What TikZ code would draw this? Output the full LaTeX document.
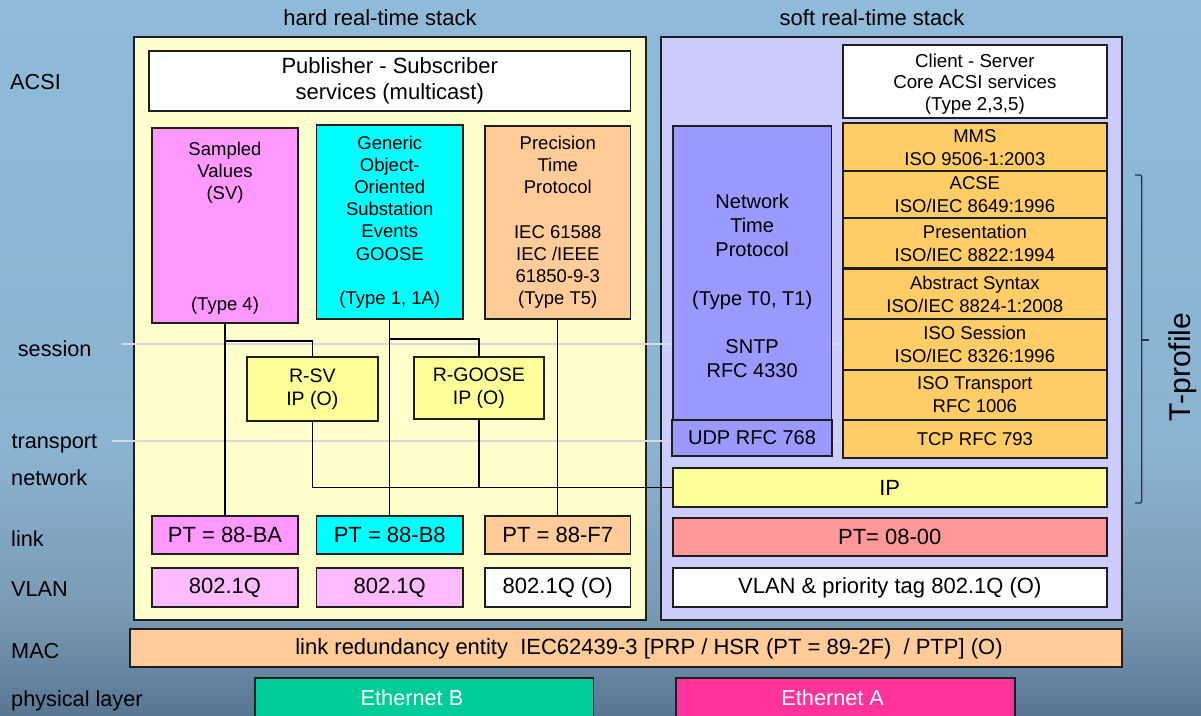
\documentclass[tikz,border=0pt]{standalone}
\usepackage{fontspec}
\setmainfont{Liberation Sans}
\usetikzlibrary{calc}

\definecolor{bgtop}{RGB}{143,186,218}
\definecolor{bgmid}{RGB}{139,179,210}
\definecolor{bglow}{RGB}{120,152,178}
\definecolor{bgbot}{RGB}{88,118,146}
\definecolor{hardfill}{RGB}{255,255,204}
\definecolor{softfill}{RGB}{204,204,255}
\definecolor{svpink}{RGB}{255,153,255}
\definecolor{vlanpink}{RGB}{255,187,255}
\definecolor{goosecyan}{RGB}{0,255,255}
\definecolor{ptppeach}{RGB}{255,204,153}
\definecolor{paleyellow}{RGB}{255,255,153}
\definecolor{ntpblue}{RGB}{153,153,255}
\definecolor{isoorange}{RGB}{255,204,102}
\definecolor{ethred}{RGB}{255,153,153}
\definecolor{ethbgreen}{RGB}{0,204,153}
\definecolor{ethamagenta}{RGB}{255,51,153}
\definecolor{layerline}{RGB}{214,218,224}
\definecolor{bracketblue}{RGB}{40,50,80}
\definecolor{edge}{RGB}{30,30,30}

\tikzset{
  stack/.style={draw=edge, line width=2.2pt, inner sep=0pt},
  box/.style={draw=edge, line width=1.8pt, inner sep=0pt, align=center,
    font=\fontsize{18.5}{22.2}\selectfont},
  rowbox/.style={draw=edge, line width=1.8pt, inner sep=0pt,
    font=\fontsize{22}{26}\selectfont},
  isobox/.style={box, fill=isoorange, minimum width=263.7pt,
    font=\fontsize{18.5}{23}\selectfont},
  plain/.style={inner sep=0pt, align=center},
  layer/.style={inner sep=0pt, anchor=base west, font=\fontsize{21.7}{26}\selectfont},
  heading/.style={inner sep=0pt, anchor=base, font=\fontsize{22}{26}\selectfont},
  wire/.style={draw=black, line width=1.4pt},
  guide/.style={draw=layerline, line width=1.5pt},
}

\begin{document}
\begin{tikzpicture}[x=1pt,y=1pt]
\useasboundingbox (0,0) rectangle (1201,-715);
\clip (0,0) rectangle (1201,-715);

% backdrop
\shade[top color=bgtop, bottom color=bgmid] (0,0.5) rectangle (1201,-450.5);
\shade[top color=bgmid, bottom color=bglow] (0,-450) rectangle (1201,-620.5);
\shade[top color=bglow, bottom color=bgbot] (0,-620) rectangle (1201,-716);

% stack headings
\node[heading] (hardtitle) at (380,-25) {hard real-time stack};
\node[heading] (softtitle) at (872,-25) {soft real-time stack};

% layer names
\node[layer] (lacsi) at (10,-89.3) {ACSI};
\node[layer] (lsession) at (17.7,-356) {session};
\node[layer] (ltransport) at (11.4,-448.3) {transport};
\node[layer] (lnetwork) at (11,-485) {network};
\node[layer] (llink) at (11,-546) {link};
\node[layer] (lvlan) at (11,-596) {VLAN};
\node[layer] (lmac) at (11,-658.3) {MAC};
\node[layer] (lphys) at (11,-706.7) {physical layer};

% the two stacks
\node[stack, fill=hardfill, minimum width=512pt, minimum height=583pt] (hard) at (390,-328.5) {};
\node[stack, fill=softfill, minimum width=461.4pt, minimum height=583pt] (soft) at (891.3,-328.5) {};

% session / transport guide lines
\coordinate (sessA) at (122,-344);
\coordinate (sessB) at (843,-344);
\coordinate (transA) at (111.5,-441);
\coordinate (transB) at (843,-441);
\draw[guide] (sessA) -- (sessB);
\draw[guide] (transA) -- (transB);

% hard real-time stack
\node[box, fill=white, minimum width=481.5pt, minimum height=60pt,
  font=\fontsize{22}{25.5}\selectfont] (pubsub) at (389.75,-81)
  {Publisher - Subscriber\\services (multicast)};
\node[box, fill=svpink, minimum width=146pt, minimum height=195pt] (sv) at (225,-225.2) {};
\node[plain, font=\fontsize{18.5}{22.2}\selectfont] (svtext) at (225,-228.5)
  {Sampled\\Values\\(SV)\\ \\ \\ \\ \\(Type 4)};
\node[box, fill=goosecyan, minimum width=146.5pt, minimum height=194pt] (goose) at (389.75,-222)
  {Generic\\Object-\\Oriented\\Substation\\Events\\GOOSE\\ \\(Type 1, 1A)};
\node[box, fill=ptppeach, minimum width=145.5pt, minimum height=193.6pt] (ptp) at (557.75,-222.5)
  {Precision\\Time\\Protocol\\ \\IEC 61588\\IEC /IEEE\\61850-9-3\\(Type T5)};
\node[box, fill=paleyellow, minimum width=131.4pt, minimum height=63.7pt,
  font=\fontsize{19.5}{23.3}\selectfont] (rsv) at (312.3,-389.15) {R-SV\\IP (O)};
\node[box, fill=paleyellow, minimum width=130.3pt, minimum height=61.7pt,
  font=\fontsize{19.5}{23.3}\selectfont] (rgoose) at (478.85,-388.15) {R-GOOSE\\IP (O)};
\node[rowbox, fill=svpink, minimum width=146pt, minimum height=38.3pt] (ptba) at (225,-535.15) {PT = 88-BA};
\node[rowbox, fill=goosecyan, minimum width=146.5pt, minimum height=38.3pt] (ptbe) at (389.75,-535.15) {PT = 88-B8};
\node[rowbox, fill=ptppeach, minimum width=145.5pt, minimum height=38.3pt] (ptfs) at (557.75,-535.15) {PT = 88-F7};
\node[rowbox, fill=vlanpink, minimum width=146pt, minimum height=38.4pt] (vsv) at (225,-587.5) {802.1Q};
\node[rowbox, fill=vlanpink, minimum width=146.5pt, minimum height=38.4pt] (vgoose) at (389.75,-587.5) {802.1Q};
\node[rowbox, fill=white, minimum width=145.5pt, minimum height=38.4pt] (vptp) at (557.75,-587.5) {802.1Q (O)};

% soft real-time stack
\node[box, fill=white, minimum width=263.7pt, minimum height=72.7pt] (client) at (974.85,-81.35) {};
\node[plain, font=\fontsize{18.7}{21.8}\selectfont] (clienttext) at (974.85,-84)
  {Client - Server\\Core ACSI services\\(Type 2,3,5)};
\node[box, fill=ntpblue, minimum width=158.7pt, minimum height=294.3pt] (ntp) at (752.15,-272.85) {};
\node[plain, font=\fontsize{20}{24.2}\selectfont] (ntptext) at (752.15,-286)
  {Network\\Time\\Protocol\\ \\(Type T0, T1)\\ \\SNTP\\RFC 4330};
\node[rowbox, fill=ntpblue, minimum width=160pt, minimum height=36pt,
  font=\fontsize{20}{24}\selectfont] (udp) at (752,-438) {UDP RFC 768};
\node[isobox, minimum height=47.7pt] (mms) at (974.85,-147.15) {MMS\\ISO 9506-1:2003};
\node[isobox, minimum height=46.7pt] (acse) at (974.85,-194.35) {ACSE\\ISO/IEC 8649:1996};
\node[isobox, minimum height=50.6pt] (pres) at (974.85,-243) {Presentation\\ISO/IEC 8822:1994};
\node[isobox, minimum height=49.8pt] (asn) at (974.85,-294.4) {Abstract Syntax\\ISO/IEC 8824-1:2008};
\node[isobox, minimum height=50.7pt] (isosess) at (974.85,-344.65) {ISO Session\\ISO/IEC 8326:1996};
\node[isobox, minimum height=50pt] (isotrans) at (974.85,-395) {ISO Transport\\RFC 1006};
\node[rowbox, fill=isoorange, minimum width=263.7pt, minimum height=38.3pt,
  font=\fontsize{18.5}{22}\selectfont] (tcp) at (974.85,-439.15) {TCP RFC 793};
\node[rowbox, fill=paleyellow, minimum width=433.9pt, minimum height=38.4pt] (ip) at (889.75,-487.5) {IP};
\node[rowbox, fill=ethred, minimum width=433.9pt, minimum height=38.3pt] (ptip) at (889.75,-536.85) {PT= 08-00};
\node[rowbox, fill=white, minimum width=433.9pt, minimum height=38.4pt] (vlanpri) at (889.75,-587.5)
  {VLAN \& priority tag 802.1Q (O)};

% shared layers
\node[box, fill=ptppeach, minimum width=992.4pt, minimum height=38.3pt] (mac) at (625.8,-648.15) {};
\node[plain, font=\fontsize{22}{26}\selectfont] (mactext) at (649,-648.5)
  {link redundancy entity\ \ IEC62439-3 [PRP / HSR (PT = 89-2F)\ \ / PTP] (O)};
\node[box, fill=ethbgreen, minimum width=338.4pt, minimum height=43.4pt] (ethb) at (424.2,-700) {};
\node[plain, text=white, font=\fontsize{21.7}{26}\selectfont] (ethbtext) at (412,-697.5) {Ethernet B};
\node[box, fill=ethamagenta, minimum width=338.8pt, minimum height=43.4pt] (etha) at (845.3,-700) {};
\node[plain, text=white, font=\fontsize{21.7}{26}\selectfont] (ethatext) at (832.7,-697.5) {Ethernet A};

% connections inside the hard stack
\coordinate (svfork) at ($(sv.south)+(0,-17.3)$);
\coordinate (goosefork) at ($(goose.south)+(0,-19)$);
\draw[wire] (sv.south) -- (ptba.north);
\draw[wire] (svfork) -| (rsv.north);
\draw[wire] (goose.south) -- (ptbe.north);
\draw[wire] (goosefork) -| (rgoose.north);
\draw[wire] (ptp.south) -- (ptfs.north);
\draw[wire] (rsv.south) |- (ip.west);
\draw[wire] (rgoose.south) -- (rgoose.south |- ip.west);

% T-profile brace
\coordinate (brtop) at (1135,-175);
\coordinate (brbot) at (1135,-503);
\coordinate (brtip) at (1149,-340);
\draw[bracketblue, line width=1.3pt, rounded corners=1.5pt]
  (brtop) -- ++(6.7,0) |- (brbot);
\draw[bracketblue, line width=1.3pt] (1141.7,-340) -- (brtip);
\node[plain, rotate=90, font=\fontsize{30}{34}\selectfont] (tprofile) at (1183,-367) {T-profile};
\end{tikzpicture}
\end{document}
